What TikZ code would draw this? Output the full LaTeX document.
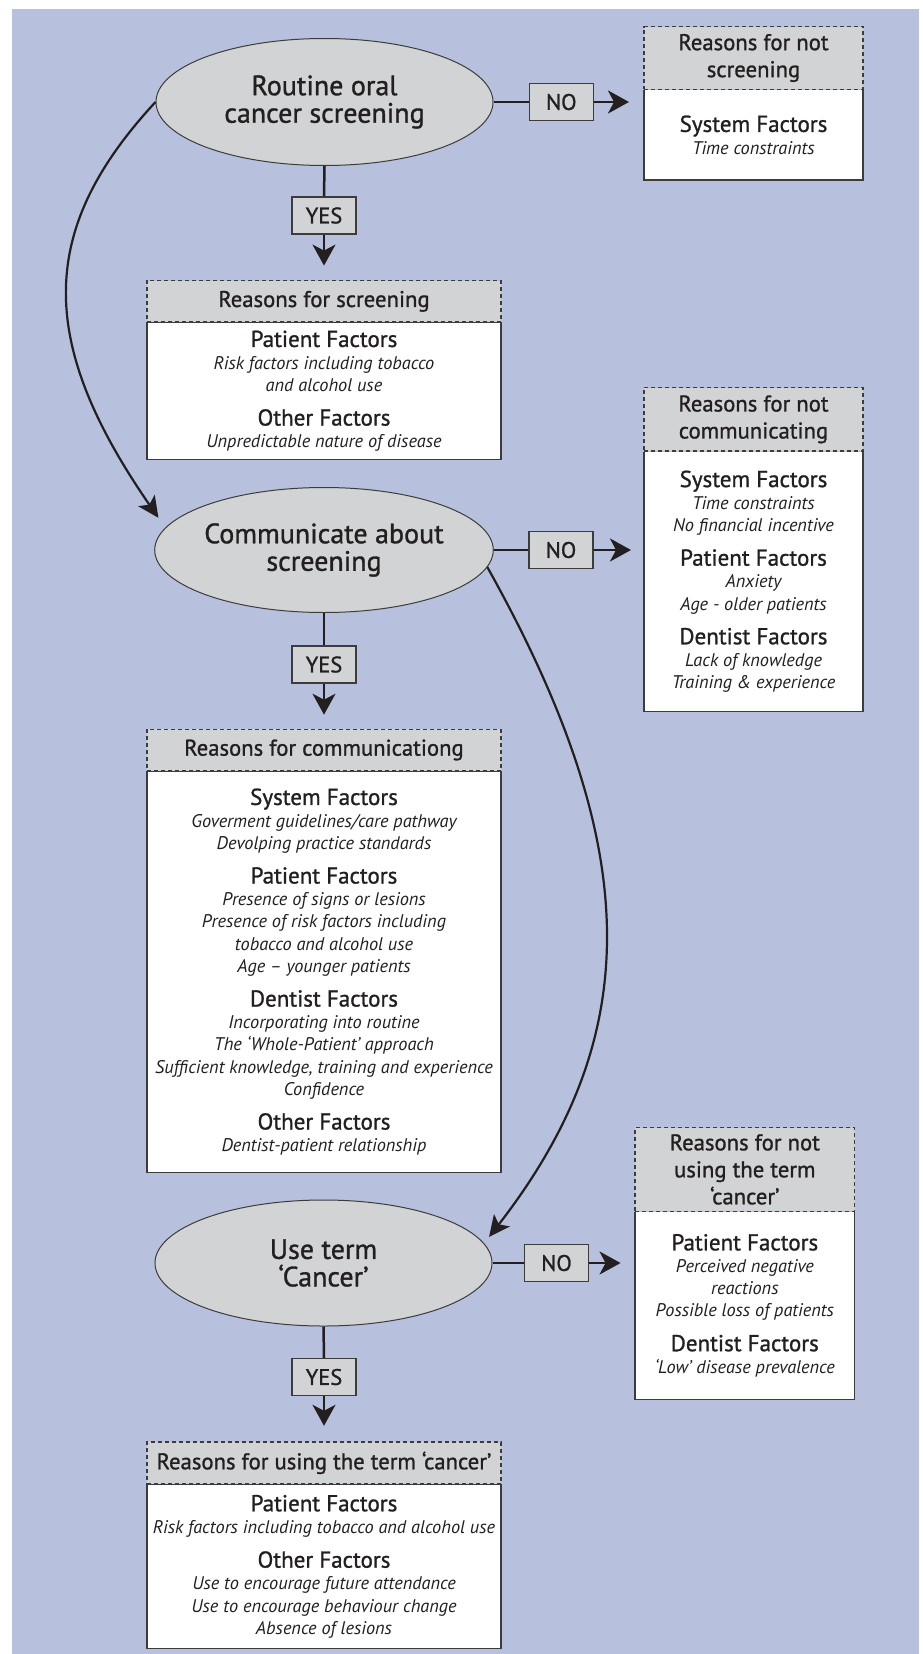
\documentclass[tikz,border=0pt]{standalone}
\usepackage{fontspec}
\setmainfont{PT Sans}
\newfontfamily\medfont[FakeBold=1.1]{PT Sans}
\usetikzlibrary{shapes.geometric,arrows.meta}
\definecolor{bgblue}{RGB}{183,192,220}
\definecolor{grayf}{RGB}{209,211,212}
\definecolor{bord}{RGB}{60,60,60}
\definecolor{ink}{RGB}{35,31,32}
\newcommand\szE{\medfont\fontsize{28}{27.5}\selectfont}
\newcommand\szH{\medfont\fontsize{22.7}{27}\selectfont}
\newcommand\szF{\medfont\fontsize{23}{22.2}\selectfont}
\newcommand\szI{\fontsize{18.3}{22.2}\selectfont\itshape}
\newcommand\szY{\medfont\fontsize{22.5}{24}\selectfont}
\newcommand\fh[1]{{\upshape\szF #1}}
\tikzset{
  ell/.style={ellipse, draw=bord, line width=1pt, fill=grayf, inner sep=0pt, align=center, font=\szE, text=ink},
  yn/.style={rectangle, draw=bord, line width=1.2pt, fill=grayf, minimum width=64pt, minimum height=37pt, inner sep=0pt, font=\szY, text=ink},
  hdr/.style={rectangle, draw=bord, line width=1.2pt, dash pattern=on 4pt off 3pt, fill=grayf, align=center, inner sep=0pt, font=\szH, text=ink},
  bdy/.style={rectangle, fill=white, align=center, inner sep=0pt, outer sep=0pt, font=\szI, text=ink, anchor=north},
  bdyfull/.style={bdy, draw=bord, line width=1.2pt},
  sideline/.style={draw=bord, line width=1.2pt},
  conn/.style={draw=ink, line width=2.5pt},
  arr/.style={conn, -{Stealth[length=21pt,width=23pt,inset=6pt]}},
  curv/.style={draw=ink, line width=2.2pt, -{Stealth[length=21pt,width=20pt,inset=5pt]}}
}
\begin{document}
\begin{tikzpicture}[x=1pt,y=-1pt]
\useasboundingbox (0,0) rectangle (923,1654);
\fill[bgblue] (11.7,9) rectangle (919.3,1654);

% ellipses
\node[ell, minimum width=337pt, minimum height=127pt] (e1) at (324.5,102) {Routine oral\\cancer screening};
\node[ell, minimum width=338pt, minimum height=125pt] (e2) at (324,550) {Communicate about\\screening};
\node[ell, minimum width=337pt, minimum height=126pt] (e3) at (323.5,1263) {Use term\\‘Cancer’};

% yes / no boxes
\node[yn] (no1) at (561.3,102) {NO};
\node[yn] (yes1) at (324,215.5) {YES};
\node[yn] (no2) at (561,550) {NO};
\node[yn] (yes2) at (324,664.5) {YES};
\node[yn] (no3) at (556.5,1263) {NO};
\node[yn] (yes3) at (324,1377) {YES};

% Reasons for not screening
\node[hdr, minimum width=219pt, minimum height=62.6pt] (rnsH) at (753.5,58) {Reasons for not\\screening};
\node[bdy, minimum width=219pt, minimum height=90pt] (rnsB) at (rnsH.south) {\fh{System Factors}\\Time constraints};
\draw[sideline] (rnsB.north west) -- (rnsB.south west) -- (rnsB.south east) -- (rnsB.north east);
\node[hdr, minimum width=219pt, minimum height=62.6pt] at (753.5,58) {Reasons for not\\screening};

% Reasons for screening
\node[hdr, minimum width=354pt, minimum height=41.3pt] (rsH) at (324,301.35) {Reasons for screening};
\node[bdyfull, minimum width=354pt, minimum height=137pt] (rsB) at (rsH.south) {\fh{Patient Factors}\\Risk factors including tobacco\\and alcohol use\\[12pt]\fh{Other Factors}\\Unpredictable nature of disease};

% Reasons for not communicating
\node[hdr, minimum width=219pt, minimum height=63.3pt] (rncH) at (753.5,419.35) {Reasons for not\\communicating};
\node[bdy, minimum width=219pt, minimum height=260pt] (rncB) at (rncH.south) {\fh{System Factors}\\Time constraints\\No financial incentive\\[12pt]\fh{Patient Factors}\\Anxiety\\Age - older patients\\[12pt]\fh{Dentist Factors}\\Lack of knowledge\\Training \& experience};
\draw[sideline] (rncB.north west) -- (rncB.south west) -- (rncB.south east) -- (rncB.north east);
\node[hdr, minimum width=219pt, minimum height=63.3pt] at (753.5,419.35) {Reasons for not\\communicating};

% Reasons for communicating
\node[hdr, minimum width=354pt, minimum height=41.4pt] (rcH) at (324,750) {Reasons for communicationg};
\node[bdyfull, minimum width=354pt, minimum height=401.3pt] (rcB) at (rcH.south) {\fh{System Factors}\\Goverment guidelines/care pathway\\Devolping practice standards\\[12pt]\fh{Patient Factors}\\Presence of signs or lesions\\Presence of risk factors including\\tobacco and alcohol use\\Age – younger patients\\[12pt]\fh{Dentist Factors}\\Incorporating into routine\\The ‘Whole-Patient’ approach\\Sufficient knowledge, training and experience\\Confidence\\[12pt]\fh{Other Factors}\\Dentist-patient relationship};

% Reasons for not using the term cancer
\node[hdr, minimum width=219.5pt, minimum height=83.8pt] (rnuH) at (744.8,1169.4) {Reasons for not\\using the term\\‘cancer’};
\node[bdy, minimum width=219.5pt, minimum height=187.3pt] (rnuB) at (rnuH.south) {\fh{Patient Factors}\\Perceived negative\\reactions\\Possible loss of patients\\[12pt]\fh{Dentist Factors}\\‘Low’ disease prevalence};
\draw[sideline] (rnuB.north west) -- (rnuB.south west) -- (rnuB.south east) -- (rnuB.north east);
\node[hdr, minimum width=219.5pt, minimum height=83.8pt] at (744.8,1169.4) {Reasons for not\\using the term\\‘cancer’};

% Reasons for using the term cancer
\node[hdr, minimum width=354pt, minimum height=41.9pt] (ruH) at (324,1462.85) {Reasons for using the term ‘cancer’};
\node[bdyfull, minimum width=354pt, minimum height=164.2pt] (ruB) at (ruH.south) {\fh{Patient Factors}\\Risk factors including tobacco and alcohol use\\[12pt]\fh{Other Factors}\\Use to encourage future attendance\\Use to encourage behaviour change\\Absence of lesions};

% connectors
\draw[conn] (e1.east) -- (no1.west);
\draw[arr, shorten >=15pt] (no1.east) -- (no1.east -| rnsB.west);
\draw[conn] (e1.south) -- (yes1.north);
\draw[arr, shorten >=14.5pt] (yes1.south) -- (yes1.south |- rsH.north);

\draw[conn] (e2.east) -- (no2.west);
\draw[arr, shorten >=13pt] (no2.east) -- (no2.east -| rncB.west);
\draw[conn] (e2.south) -- (yes2.north);
\draw[arr, shorten >=14pt] (yes2.south) -- (yes2.south |- rcH.north);

\draw[conn] (e3.east) -- (no3.west);
\draw[arr, shorten >=14.5pt] (no3.east) -- (no3.east -| rnuB.west);
\draw[conn] (e3.south) -- (yes3.north);
\draw[arr, shorten >=15.5pt] (yes3.south) -- (yes3.south |- ruH.north);

% curved connectors
\draw[curv, shorten >=12pt] (e1.west) .. controls (37,230) and (37,342) .. (e2.172);
\draw[curv, shorten >=8pt] (e2.-6) .. controls (645,849) and (645,1036) .. (e3.7.5);
\end{tikzpicture}
\end{document}
